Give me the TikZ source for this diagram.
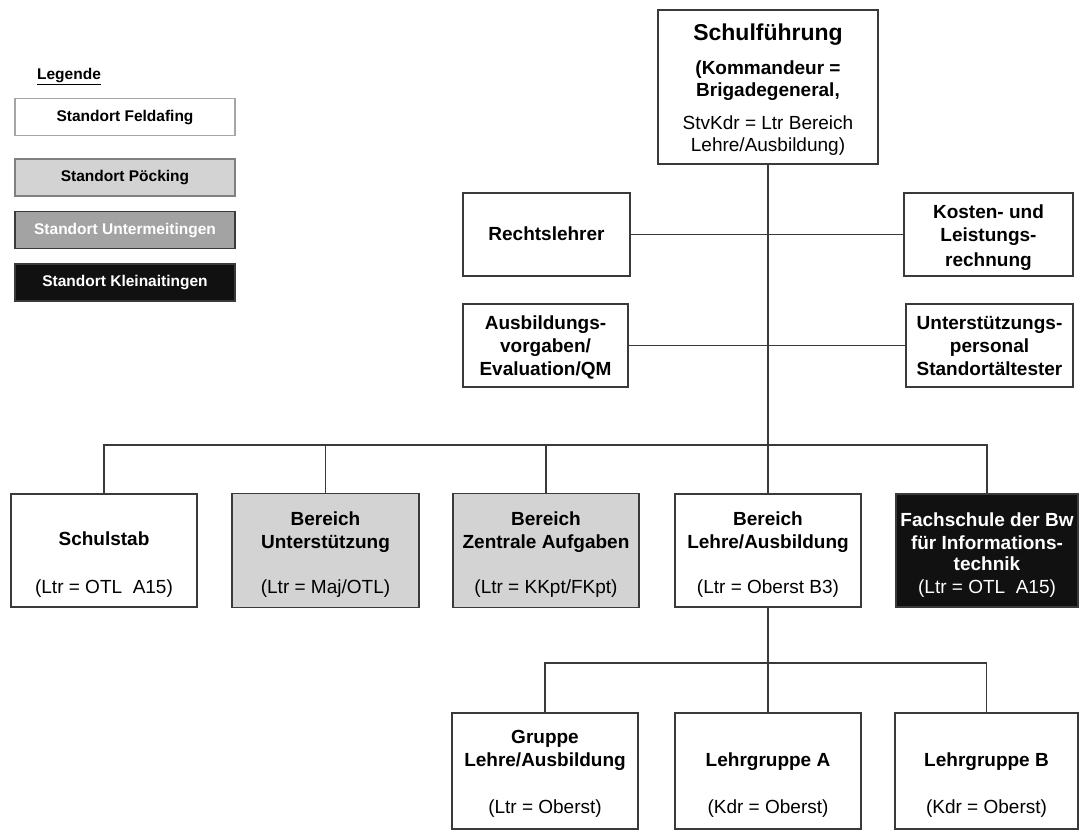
\documentclass[tikz,border=0pt]{standalone}
\usepackage{fontspec}
\setmainfont{Liberation Sans}
\definecolor{linec}{HTML}{3A3A3A}
\definecolor{lightg}{HTML}{D3D3D3}
\definecolor{midg}{HTML}{A3A3A3}
\definecolor{darkb}{HTML}{111111}
\newcommand\fbig{\fontsize{19}{23}\selectfont}
\newcommand\fhuge{\fontsize{23}{27}\selectfont}
\newcommand\fleg{\fontsize{15.5}{18}\selectfont}
\newcommand\hr[1]{\rule{0pt}{#1}}
\begin{document}
\begin{tikzpicture}[x=1pt,y=-1pt,
  box/.style={draw=linec, line width=1.6pt, inner sep=0pt, align=center, font=\bfseries\fbig, text=black},
  legbox/.style={draw=linec, line width=1.2pt, inner sep=0pt, font=\bfseries\fleg, minimum width=220pt, minimum height=37pt, text height=11pt, text depth=3pt},
  conn/.style={draw=linec, line width=1.6pt}]
\useasboundingbox[fill=white] (0,0) rectangle (1080,830);

% legend
\node[font=\bfseries\fleg, inner sep=0pt] (legtitle) at (69,77) {\underline{Legende}};
\node[legbox, draw=gray!70, fill=white] (lfeld) at (125,117) {Standort Feldafing};
\node[legbox, draw=gray, fill=lightg] (lpoeck) at (125,177.5) {Standort Pöcking};
\node[legbox, fill=midg, text=white] (lunter) at (125,230) {Standort Untermeitingen};
\node[legbox, fill=darkb, text=white] (lklein) at (125,282.5) {Standort Kleinaitingen};

% top
\node[box, minimum width=220pt, minimum height=154pt] (top) at (768,87)
 {\hr{24.9pt}{\fhuge Schulführung}\strut\\[11.6pt]
  (Kommandeur =\strut\\[-1pt]
  Brigadegeneral,\strut\\[10pt]
  \mdseries StvKdr = Ltr Bereich\strut\\[-1pt]
  \mdseries Lehre/Ausbildung)\strut};

% staff boxes
\node[box, minimum width=167pt, minimum height=83pt] (recht) at (546.5,234.5)
 {\hr{19.5pt}Rechtslehrer\strut};
\node[box, minimum width=169pt, minimum height=83pt] (kosten) at (988.5,234.5)
 {\hr{23.5pt}Kosten- und\strut\\Leistungs-\strut\\[2pt]rechnung\strut};
\node[box, minimum width=165pt, minimum height=83pt] (ausb) at (545.5,345.5)
 {\hr{21.5pt}Ausbildungs-\strut\\vorgaben/\strut\\Evaluation/QM\strut};
\node[box, minimum width=167pt, minimum height=83pt] (unters) at (989.5,345.5)
 {\hr{21.5pt}Unterstützungs-\strut\\personal\strut\\Standortältester\strut};

% second level
\node[box, minimum width=186pt, minimum height=113pt] (schulstab) at (104,550.5)
 {\hr{45.5pt}Schulstab\strut\\[25pt]\mdseries (Ltr = OTL\ \ A15)\strut};
\node[box, fill=lightg, minimum width=187pt, minimum height=114pt] (bu) at (325.5,550.5)
 {\hr{25.5pt}Bereich\strut\\Unterstützung\strut\\[22pt]\mdseries (Ltr = Maj/OTL)\strut};
\node[box, fill=lightg, minimum width=186pt, minimum height=114pt] (bz) at (546,550.5)
 {\hr{25.5pt}Bereich\strut\\Zentrale Aufgaben\strut\\[22pt]\mdseries (Ltr = KKpt/FKpt)\strut};
\node[box, minimum width=186pt, minimum height=113pt] (bl) at (768,550.5)
 {\hr{25.5pt}Bereich\strut\\Lehre/Ausbildung\strut\\[22pt]\mdseries (Ltr = Oberst B3)\strut};
\node[box, fill=darkb, text=white, minimum width=182pt, minimum height=113pt] (fach) at (987,550.5)
 {\hr{25.5pt}Fachschule der Bw\strut\\für Informations-\strut\\[-2pt]technik\strut\\\mdseries (Ltr = OTL\ \ A15)\strut};

% third level
\node[box, minimum width=186pt, minimum height=116pt] (gruppe) at (545,771)
 {\hr{22.5pt}Gruppe\strut\\Lehre/Ausbildung\strut\\[24pt]\mdseries (Ltr = Oberst)\strut};
\node[box, minimum width=186pt, minimum height=116pt] (lga) at (768,771)
 {\hr{45.5pt}Lehrgruppe A\strut\\[24pt]\mdseries (Kdr = Oberst)\strut};
\node[box, minimum width=183pt, minimum height=116pt] (lgb) at (986.5,771)
 {\hr{45.5pt}Lehrgruppe B\strut\\[24pt]\mdseries (Kdr = Oberst)\strut};

% connectors
\coordinate (bus) at (768,445);
\coordinate (bus2) at (768,663);
\draw[conn] (top) -- (bl);
\draw[conn] (recht) -- (kosten);
\draw[conn] (ausb) -- (unters);
\draw[conn] (schulstab.north) |- (bus) -| (fach.north);
\draw[conn] (bu.north) -- (bu.north |- bus);
\draw[conn] (bz.north) -- (bz.north |- bus);
\draw[conn] (bl) -- (lga);
\draw[conn] (gruppe.north) |- (bus2) -| (lgb.north);
\end{tikzpicture}
\end{document}
